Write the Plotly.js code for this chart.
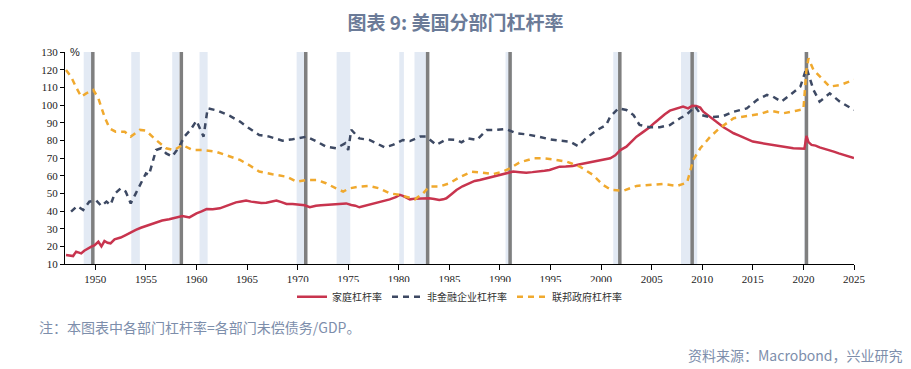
<!DOCTYPE html>
<html><head><meta charset="utf-8">
<script src="https://cdn.plot.ly/plotly-3.0.1.min.js"></script>
<style>html,body{margin:0;padding:0;background:#fff;}#chart{width:911px;height:369px;}</style>
</head><body><div id="chart"></div>
<script>
// Household leverage (% of GDP)
const hhYears = [1947.1,1947.5,1947.8,1948.1,1948.6,1948.9,1949.3,1949.6,1949.9,1950.3,1950.6,1950.9,1951.2,1951.5,1951.9,1952.5,1953,1953.5,1954,1954.5,1955,1955.5,1956,1956.6,1957.3,1958,1958.6,1959.3,1960,1960.5,1961,1961.6,1962.3,1962.9,1963.4,1963.9,1964.4,1964.9,1965.4,1965.9,1966.4,1966.9,1967.4,1967.9,1968.4,1968.9,1969.5,1970.2,1970.7,1971.2,1971.8,1972.3,1972.8,1973.3,1973.8,1974.3,1974.8,1975.3,1975.7,1976.1,1976.6,1977.1,1977.6,1978.1,1978.6,1979.1,1979.7,1980.1,1980.4,1980.8,1981.1,1981.6,1982.1,1982.6,1983,1983.5,1984,1984.4,1984.7,1985.2,1985.7,1986.3,1987,1987.5,1988,1988.6,1989.3,1990,1990.6,1991.3,1992,1992.6,1993.2,1993.9,1994.4,1994.9,1995.4,1995.9,1996.5,1997.2,1997.8,1998.5,1999.2,1999.9,2000.4,2000.9,2001.4,2001.9,2002.5,2003,2003.5,2004.1,2004.8,2005.3,2005.8,2006.3,2006.8,2007.4,2008.1,2008.6,2009,2009.4,2009.8,2010.1,2010.6,2011.1,2011.6,2012.1,2012.6,2013.1,2013.6,2014.1,2014.6,2015,2015.7,2016.4,2017,2017.7,2018.4,2019,2019.6,2020.1,2020.3,2020.5,2020.8,2021.2,2021.6,2022.3,2023,2023.5,2024,2024.5,2025];
const hhVals  = [15.1,15.0,14.5,17.0,16.0,17.5,19.0,19.8,20.5,22.6,20.0,23.0,22.0,21.7,24.0,25.0,26.4,28.0,29.3,30.5,31.5,32.5,33.8,34.6,35.3,36.3,37.2,36.4,38.7,39.8,41.1,41.0,41.5,42.8,43.9,44.9,45.4,45.9,45.3,44.9,44.5,44.7,45.2,45.9,45.0,44.0,43.9,43.4,43.2,42.1,43.0,43.2,43.4,43.6,43.8,44.0,44.3,43.4,43.0,42.1,42.8,43.8,44.5,45.3,46.0,46.6,47.8,49.1,48.6,47.5,46.6,47.0,47.2,47.0,47.2,46.8,46.2,46.6,47.2,49.5,51.9,54.0,56.0,57.0,57.6,58.4,59.4,60.4,61.3,62.3,62.0,61.7,62.0,62.3,62.8,63.2,64.2,65.1,65.2,65.5,66.3,67.0,68.0,68.5,69.2,69.8,71.5,74.5,76.4,79.0,82.1,84.5,87.4,90.0,92.5,94.8,96.8,98.0,99.1,98.1,99.5,99.4,98.5,96.2,94.0,91.5,89.5,87.4,85.7,84.0,82.8,81.7,80.5,79.3,78.6,77.9,77.5,76.8,76.3,75.5,75.4,75.3,82.5,79.0,77.4,77.0,76.0,75.0,73.6,72.6,71.7,70.9,70.0];

// Non-financial corporate leverage
const corpYears = [1947.6,1948.2,1948.8,1949.4,1950.1,1950.6,1951.1,1951.5,1951.9,1952.5,1953,1953.5,1954,1954.5,1955,1955.3,1956,1956.5,1957,1957.6,1958.3,1958.8,1959.4,1960,1960.3,1960.7,1961.1,1962.1,1963.3,1964.3,1965.2,1966.2,1967.2,1968.5,1969.5,1970.9,1971.9,1972.8,1973.8,1974.7,1975,1975.3,1976.1,1977.1,1977.8,1978.6,1979.4,1980.4,1981.1,1982.1,1982.7,1983.7,1984.7,1985.7,1986.2,1986.8,1987.7,1988.7,1989.6,1990.6,1991.6,1992.6,1993.8,1994.9,1995.9,1996.9,1997.7,1998.5,1999.5,2000.5,2000.9,2001.7,2002.5,2003.2,2003.8,2004.8,2005.8,2006.8,2007.8,2008.4,2009.3,2009.9,2010.8,2012.1,2013.1,2014.4,2015.4,2016.4,2017,2017.8,2018.7,2019.7,2020.3,2021,2021.6,2022.6,2023.6,2025];
const corpVals  = [39.6,42.8,40.6,45.3,45.9,42.8,45.3,43.4,49.6,52.8,51.0,44.3,50.0,55.7,61.3,60.4,74.5,75.5,72.6,70.8,76.4,82.1,85.9,91.1,86.8,82.1,98.1,96.8,93.8,90.6,86.8,83.0,82.1,79.8,80.6,82.1,79.3,76.4,75.5,78.3,74.5,86.0,81.1,80.2,78.3,76.0,77.4,80.2,79.6,82.1,82.1,77.4,80.6,80.2,78.9,81.1,80.2,85.9,85.9,86.4,84.0,83.4,82.1,80.6,79.8,79.3,76.8,81.1,85.5,88.7,93.4,98.1,97.2,94.3,88.7,87.4,87.4,88.7,92.5,94.3,99.1,94.3,93.0,93.8,96.2,98.1,102.8,105.7,104.7,101.9,105.7,110.4,121.0,108.5,101.9,106.6,101.9,97.2];

// Federal government leverage
const fedYears = [1947.1,1947.6,1948.1,1948.6,1949.1,1949.8,1950.3,1950.9,1951.4,1952,1952.9,1953.5,1954.4,1955,1956,1957,1957.8,1958.6,1959.6,1960.6,1961.9,1962.9,1964.3,1965.2,1966.2,1967.5,1968.9,1969.9,1970.9,1971.9,1972.8,1973.8,1974.5,1975.1,1976.1,1977.1,1978.1,1979.1,1980.1,1980.7,1981.6,1982.4,1983,1984,1985,1986,1987.2,1988.3,1989.3,1990.3,1991,1991.9,1993.3,1994.3,1995.3,1996.6,1997.9,1999.2,2000.2,2001,2002.2,2003.5,2004.8,2006.1,2007.5,2008.5,2009.1,2009.8,2010.8,2011.7,2013.1,2014.4,2015.7,2016.7,2018,2019.3,2020,2020.3,2020.5,2021,2021.8,2022.6,2023.6,2025];
const fedVals  = [119.8,116.0,110.0,104.7,106.6,108.5,103.8,93.4,86.8,84.9,84.9,82.1,85.9,85.5,80.2,75.5,74.5,77.4,74.5,74.5,73.6,71.7,68.9,66.0,62.3,60.8,59.4,56.6,57.6,57.6,55.7,52.8,51.0,52.8,53.8,54.2,52.8,50.0,49.1,48.1,46.6,50.0,53.8,53.8,55.7,59.1,62.3,61.7,60.9,62.3,64.2,67.4,69.8,69.8,69.2,67.9,65.1,60.4,54.7,51.9,51.5,54.2,54.7,55.3,54.2,56.1,68.9,75.5,82.1,86.8,92.5,93.8,94.9,96.8,95.3,96.8,97.6,119.8,126.4,119.8,115.1,110.4,111.3,114.2];

const seriesNames = ['家庭杠杆率','非金融企业杠杆率','联邦政府杠杆率'];

// Recession bands (start, end) and marker lines
const bandStart = [1948.85,1953.55,1957.6,1960.3,1969.9,1973.85,1980.05,1981.55,1990.55,2001.2,2007.9,2020.1];
const bandEnd   = [1949.8,1954.4,1958.3,1961.1,1970.9,1975.2,1980.5,1982.9,1991.2,2001.9,2009.5,2020.35];
const markYears = [1949.75,1958.5,1970.8,1982.85,1991.0,2001.85,2009.0,2020.3];

const yTicks = [10,20,30,40,50,60,70,80,90,100,110,120,130];
const xTicks = [1950,1955,1960,1965,1970,1975,1980,1985,1990,1995,2000,2005,2010,2015,2020,2025];

const shapes = [];
bandStart.forEach((s,i)=>shapes.push({type:'rect',xref:'x',yref:'paper',x0:s,x1:bandEnd[i],y0:0,y1:1,fillcolor:'#e3eaf4',line:{width:0},layer:'below'}));
markYears.forEach(m=>shapes.push({type:'line',xref:'x',yref:'paper',x0:m,x1:m,y0:0,y1:1,line:{color:'#7f7f7f',width:3.5},layer:'below'}));

const traces = [
  {x:hhYears,y:hhVals,name:seriesNames[0],type:'scatter',mode:'lines',line:{color:'#c8344e',width:2.5}},
  {x:corpYears,y:corpVals,name:seriesNames[1],type:'scatter',mode:'lines',line:{color:'#3d4963',width:2.5,dash:'6px,5px'}},
  {x:fedYears,y:fedVals,name:seriesNames[2],type:'scatter',mode:'lines',line:{color:'#f0a92e',width:2.5,dash:'6px,5px'}}
];

const layout = {
  width:911,height:369,
  paper_bgcolor:'#fff',plot_bgcolor:'#fff',
  margin:{l:65,r:57,t:52,b:105},
  title:{text:'图表 9: 美国分部门杠杆率',font:{family:'Noto Sans CJK SC',size:19,weight:600,color:'#6b7b98'},x:0.5,xanchor:'center',y:0.937,yref:'container',yanchor:'middle'},
  xaxis:{range:[1947,2025],tickvals:xTicks,ticktext:xTicks.map(String),showgrid:false,zeroline:false,showline:true,linecolor:'#000',linewidth:1,ticks:'outside',ticklen:5,tickcolor:'#000',tickfont:{family:'Liberation Serif',size:11,color:'#222'}},
  yaxis:{range:[10,130],tickvals:yTicks,ticktext:yTicks.map(String),showgrid:false,zeroline:false,showline:true,linecolor:'#000',linewidth:1,ticks:'outside',ticklen:4,tickcolor:'#000',tickfont:{family:'Liberation Serif',size:11,color:'#222'}},
  showlegend:true,
  legend:{orientation:'h',x:0.5,xanchor:'center',y:-0.155,yanchor:'middle',font:{family:'Noto Sans CJK SC',size:10,color:'#333'},itemwidth:30,tracegroupgap:0},
  shapes:shapes,
  annotations:[
    {text:'%',xref:'paper',yref:'paper',x:0.004,y:1.0,xanchor:'left',yanchor:'middle',showarrow:false,font:{family:'Liberation Sans',size:11,color:'#222'}},
    {text:'注：本图表中各部门杠杆率=各部门未偿债务/GDP。',xref:'paper',yref:'paper',x:-0.0355,y:-0.297,xanchor:'left',yanchor:'middle',showarrow:false,font:{family:'Noto Sans CJK SC',size:14,color:'#7d8eab'}},
    {text:'资料来源：Macrobond，兴业研究',xref:'paper',yref:'paper',x:1.0646,y:-0.43,xanchor:'right',yanchor:'middle',showarrow:false,font:{family:'Noto Sans CJK SC',size:14,color:'#7d8eab'}}
  ]
};
Plotly.newPlot('chart',traces,layout,{displayModeBar:false,staticPlot:true});
</script></body></html>
